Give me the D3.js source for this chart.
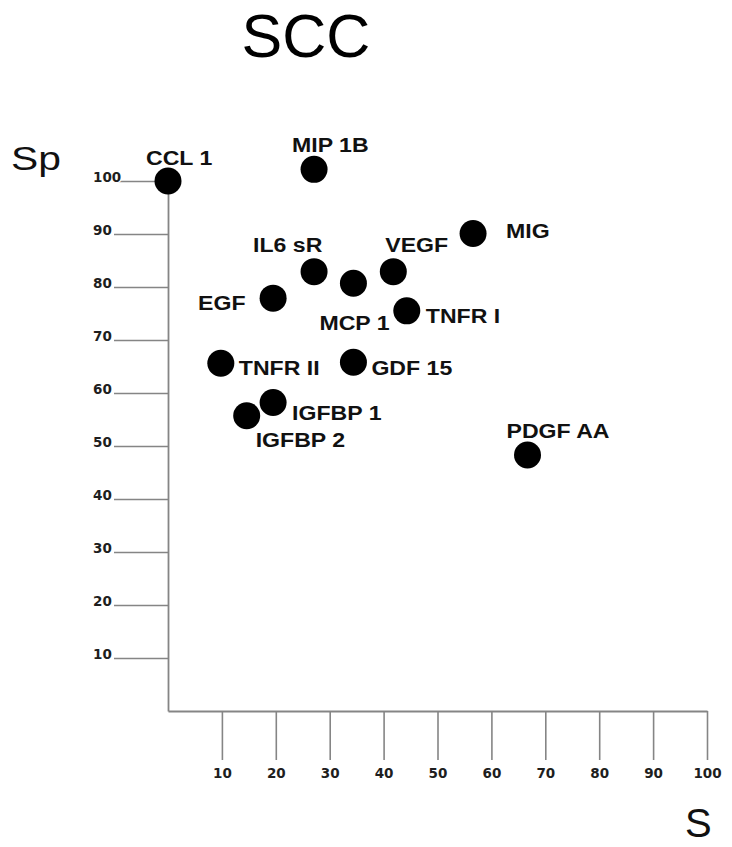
<!DOCTYPE html>
<html>
<head>
<meta charset="utf-8">
<script src="https://cdn.jsdelivr.net/npm/d3@7"></script>
<style>
  html, body { margin: 0; padding: 0; background: #fff; }
  svg { display: block; }
</style>
</head>
<body>
<div id="chart"></div>
<script>
// ---- data ----
const markers = ["CCL 1", "MIP 1B", "MIG", "IL6 sR", "VEGF", "MCP 1", "EGF",
                 "TNFR I", "TNFR II", "GDF 15", "IGFBP 1", "IGFBP 2", "PDGF AA"];
const sensitivity = [0, 27.1, 56.6, 27.1, 41.8, 34.4, 19.5, 44.3, 9.8, 34.4, 19.5, 14.6, 66.7];
const specificity = [100, 102.2, 90.1, 82.9, 82.9, 80.7, 77.9, 75.5, 65.6, 65.8, 58.2, 55.7, 48.3];
const xTicks = [10, 20, 30, 40, 50, 60, 70, 80, 90, 100];
const yTicks = [10, 20, 30, 40, 50, 60, 70, 80, 90, 100];

// label placement relative to each point (pixels)
const labelDx = [-22, -22, 33, -61, -8, -34, -75, 19, 18, 18, 19, 9, -21];
const labelDy = [-16, -17, 5, -20, -20, 47, 12, 12, 12, 13, 17, 31, -17];

const W = 732, H = 847;
const svg = d3.select("#chart").append("svg").attr("width", W).attr("height", H);

const x = d3.scaleLinear().domain([0, 100]).range([168, 707]);
const y = d3.scaleLinear().domain([0, 100]).range([711, 181]);

const axisColor = "#858585";
const tickFont = "'DejaVu Sans', Verdana, sans-serif";
const labelFont = "'Liberation Sans', Arial, sans-serif";

// y axis
const gy = svg.append("g").attr("transform", `translate(${x(0)},0)`)
  .call(d3.axisLeft(y).tickValues(yTicks).tickSize(54).tickSizeOuter(0).tickPadding(0));
gy.select(".domain").attr("stroke", axisColor).attr("stroke-width", 1.8);
gy.selectAll(".tick line").attr("stroke", axisColor).attr("stroke-width", 1.6);
gy.selectAll(".tick text")
  .attr("x", -75).attr("dy", 0).attr("text-anchor", "start")
  .attr("font-family", tickFont).attr("font-weight", "bold").attr("font-size", 13.5)
  .attr("fill", "#1e1e1e")
  .attr("stroke", "#fff").attr("stroke-width", 2.5).attr("paint-order", "stroke");

// x axis
const gx = svg.append("g").attr("transform", `translate(0,${y(0)})`)
  .call(d3.axisBottom(x).tickValues(xTicks).tickSize(49).tickSizeOuter(0).tickPadding(0));
gx.select(".domain").attr("stroke", axisColor).attr("stroke-width", 1.8);
gx.selectAll(".tick line").attr("stroke", axisColor).attr("stroke-width", 1.6);
gx.selectAll(".tick text")
  .attr("y", 67).attr("dy", 0).attr("text-anchor", "middle")
  .attr("font-family", tickFont).attr("font-weight", "bold").attr("font-size", 13.5)
  .attr("fill", "#1e1e1e");

// points
const pts = markers.map((m, i) => ({ name: m, s: sensitivity[i], sp: specificity[i], dx: labelDx[i], dy: labelDy[i] }));

svg.append("g").selectAll("circle").data(pts).join("circle")
  .attr("cx", d => x(d.s)).attr("cy", d => y(d.sp)).attr("r", 13.5)
  .attr("fill", "#000");

svg.append("g").selectAll("text").data(pts).join("text")
  .attr("transform", d => `translate(${x(d.s) + d.dx},${y(d.sp) + d.dy}) scale(1.1,1)`)
  .attr("font-family", labelFont).attr("font-weight", "bold").attr("font-size", 21)
  .attr("fill", "#111")
  .text(d => d.name);

// title and axis names
svg.append("text").attr("x", 306).attr("y", 56.5).attr("text-anchor", "middle")
  .attr("font-family", labelFont).attr("font-size", 61).attr("fill", "#000").text("SCC");

svg.append("text").attr("transform", "translate(11,170) scale(1.2,1)")
  .attr("font-family", labelFont).attr("font-size", 34).attr("fill", "#111").text("Sp");

svg.append("text").attr("x", 685).attr("y", 837)
  .attr("font-family", labelFont).attr("font-size", 40).attr("fill", "#111").text("S");
</script>
</body>
</html>
